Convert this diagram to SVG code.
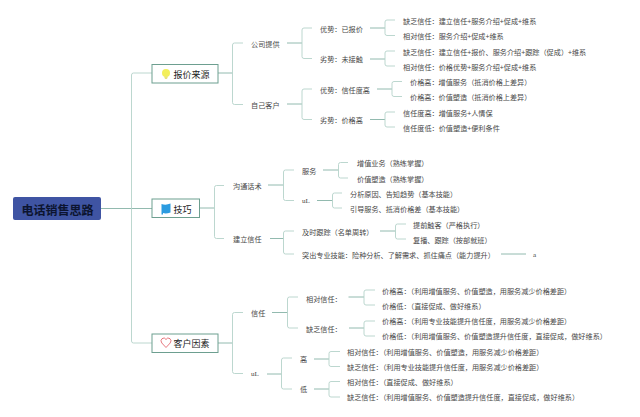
<svg xmlns="http://www.w3.org/2000/svg" width="640" height="417" viewBox="0 0 640 417">
<style>
text{font-family:"Noto Sans CJK SC","Noto Sans",sans-serif;font-size:7.15px;fill:#484848;dominant-baseline:central}
.b{font-size:9px;fill:#222}
.r{font-size:12px;font-weight:700;fill:#0c1430}
.l{font-family:"Liberation Serif",serif}
.box{fill:#fff;stroke:#6d9f90;stroke-width:1}
.c{fill:none;stroke:#b4d2ca;stroke-width:.9}
.s{fill:none;stroke:#86b2a6;stroke-width:.9}
</style>
<rect width="640" height="417" fill="#fff"/>
<g id="connectors">
<path class="s" d="M101 208.500H152"/>
<path class="c" d="M152 73H133.500Q131.500 73 131.500 75V341Q131.500 343 133.500 343H152"/>
<path class="s" d="M218 73H232.500M287 43H302M287 104H302M370 28H385M370 59H385M377 89H392M370 119.500H385"/>
<path class="c" d="M243 43H234.500Q232.500 43 232.500 45V102.500Q232.500 104.500 234.500 104.500H243"/>
<path class="c" d="M312 28H304Q302 28 302 30V56.500Q302 58.500 304 58.500H312M312 89H304Q302 89 302 91V117.500Q302 119.500 304 119.500H312"/>
<path class="c" d="M395 20H387Q385 20 385 22V33.500Q385 35.500 387 35.500H395M395 51H387Q385 51 385 53V64Q385 66 387 66H395M402 81.500H394Q392 81.500 392 83.500V94.500Q392 96.500 394 96.500H402M395 112H387Q385 112 385 114V125Q385 127 387 127H395"/>
<path class="s" d="M199.500 208H214.500M268 185H283.500M270 238.500H283.500M323 170H338.500M317 200.500H332.500M380 231H395.500M501 254H526"/>
<path class="c" d="M224 185.500H216.500Q214.500 185.500 214.500 187.500V236.500Q214.500 238.500 216.500 238.500H224"/>
<path class="c" d="M294 170H285.500Q283.500 170 283.500 172V198.500Q283.500 200.500 285.500 200.500H294M294 231H285.500Q283.500 231 283.500 233V252Q283.500 254 285.500 254H294"/>
<path class="c" d="M348 162.500H340.500Q338.500 162.500 338.500 164.500V176Q338.500 178 340.500 178H348M342 193H334.500Q332.500 193 332.500 195V206Q332.500 208 334.500 208H342M406 224H397.500Q395.500 224 395.500 226V237Q395.500 239 397.500 239H406"/>
<path class="s" d="M218 343H232.500M272 312.500H287.500M267 374H281.500M348.500 297H364M349 328H364M314 359H329M314 389H329"/>
<path class="c" d="M243 312.500H234.500Q232.500 312.500 232.500 314.500V371.500Q232.500 373.500 234.500 373.500H243"/>
<path class="c" d="M298 297H289.500Q287.500 297 287.500 299V326Q287.500 328 289.500 328H298M292 358H283.500Q281.500 358 281.500 360V387Q281.500 389 283.500 389H292"/>
<path class="c" d="M375 290H366Q364 290 364 292V303Q364 305 366 305H375M375 321H366Q364 321 364 323V334Q364 336 366 336H375M340 351.500H331Q329 351.500 329 353.500V364.500Q329 366.500 331 366.500H340M340 381.500H331Q329 381.500 329 383.500V395Q329 397 331 397H340"/>
</g>
<g id="root"><rect x="13" y="197" width="88" height="23" rx="2" fill="#3f54a3"/><text class="r" x="21.500" y="209">电话销售思路</text></g>
<g id="n-quote"><rect class="box" x="152" y="64.500" width="66" height="18.500"/><circle cx="166" cy="73" r="4" fill="#f3ef5a"/><path d="M164 76.500H168L167 79H165Z" fill="#e8e27a"/><text class="b" x="173.500" y="74.500">报价来源</text></g>
<g id="n-skill"><rect class="box" x="152" y="199" width="47.500" height="18.500"/><path d="M161.500 204Q166 205.500 170.500 203.500V212.500Q166 214 163 213V214.500H161.500Z" fill="#2b9be0"/><text class="b" x="173.500" y="209">技巧</text></g>
<g id="n-customer"><rect class="box" x="152" y="334" width="66" height="18.500"/><path d="M166 347.500L161.800 343Q160 340.500 162 338.700Q164.500 336.800 166 339.500Q167.500 336.800 170 338.700Q172 340.500 170.200 343Z" fill="#fff" stroke="#e0575f" stroke-width=".8"/><text class="b" x="173.500" y="343.500">客户因素</text></g>
<g id="n-l2">
<text x="251" y="43.500">公司提供</text><text x="251" y="104.500">自己客户</text>
<text x="233" y="186">沟通话术</text><text x="233" y="239">建立信任</text>
<text x="251" y="313">信任</text><text class="l" x="251" y="374">uL</text>
</g>
<g id="n-l3">
<text x="320" y="28.500">优势&#xFF1A;已报价</text><text x="320" y="59">劣势&#xFF1A;未接触</text>
<text x="320" y="89.500">优势&#xFF1A;信任度高</text><text x="320" y="120">劣势&#xFF1A;价格高</text>
<text x="302" y="171">服务</text><text class="l" x="302" y="201">uL</text>
<text x="302" y="232">及时跟踪&#xFF08;名单周转&#xFF09;</text><text x="302" y="255">突出专业技能&#xFF1A;险种分析、了解需求、抓住痛点&#xFF08;能力提升&#xFF09;</text>
<text x="306" y="298.500">相对信任&#xFF1A;</text><text x="306" y="328.500">缺乏信任&#xFF1A;</text>
<text x="300" y="359">高</text><text x="300" y="389">低</text>
</g>
<g id="n-l4">
<text x="403" y="20.500">缺乏信任&#xFF1A;建立信任+服务介绍+促成+维系</text>
<text x="403" y="36">相对信任&#xFF1A;服务介绍+促成+维系</text>
<text x="403" y="51.500">缺乏信任&#xFF1A;建立信任+报价、服务介绍+跟踪&#xFF08;促成&#xFF09;+维系</text>
<text x="403" y="66.500">相对信任&#xFF1A;价格优势+服务介绍+促成+维系</text>
<text x="410" y="82">价格高&#xFF1A;增值服务&#xFF08;抵消价格上差异&#xFF09;</text>
<text x="410" y="97">价格高&#xFF1A;价值塑造&#xFF08;抵消价格上差异&#xFF09;</text>
<text x="403" y="112.500">信任度高&#xFF1A;增值服务+人情保</text>
<text x="403" y="127.500">信任度低&#xFF1A;价值塑造+便利条件</text>
<text x="357" y="163">增值业务&#xFF08;熟练掌握&#xFF09;</text>
<text x="357" y="178.500">价值塑造&#xFF08;熟练掌握&#xFF09;</text>
<text x="350" y="194">分析原因、告知趋势&#xFF08;基本技能&#xFF09;</text>
<text x="350" y="209">引导服务、抵消价格差&#xFF08;基本技能&#xFF09;</text>
<text x="413" y="224.500">提前触客&#xFF08;严格执行&#xFF09;</text>
<text x="413" y="239.500">复播、跟踪&#xFF08;按部就班&#xFF09;</text>
<text class="l" x="533" y="255">a</text>
<text x="382" y="290.500">价格高&#xFF1A;&#xFF08;利用增值服务、价值塑造&#xFF0C;用服务减少价格差距&#xFF09;</text>
<text x="382" y="305.500">价格低&#xFF1A;&#xFF08;直接促成、做好维系&#xFF09;</text>
<text x="382" y="321">价格高&#xFF1A;&#xFF08;利用专业技能提升信任度&#xFF0C;用服务减少价格差距&#xFF09;</text>
<text x="382" y="336">价格低&#xFF1A;&#xFF08;利用增值服务、价值塑造提升信任度&#xFF0C;直接促成&#xFF0C;做好维系&#xFF09;</text>
<text x="347" y="351.500">相对信任&#xFF1A;&#xFF08;利用增值服务、价值塑造&#xFF0C;用服务减少价格差距&#xFF09;</text>
<text x="347" y="367">缺乏信任&#xFF1A;&#xFF08;利用专业技能提升信任度&#xFF0C;用服务减少价格差距&#xFF09;</text>
<text x="347" y="382">相对信任&#xFF1A;&#xFF08;直接促成、做好维系&#xFF09;</text>
<text x="347" y="397">缺乏信任&#xFF1A;&#xFF08;利用增值服务、价值塑造提升信任度&#xFF0C;直接促成&#xFF0C;做好维系&#xFF09;</text>
</g>
</svg>
